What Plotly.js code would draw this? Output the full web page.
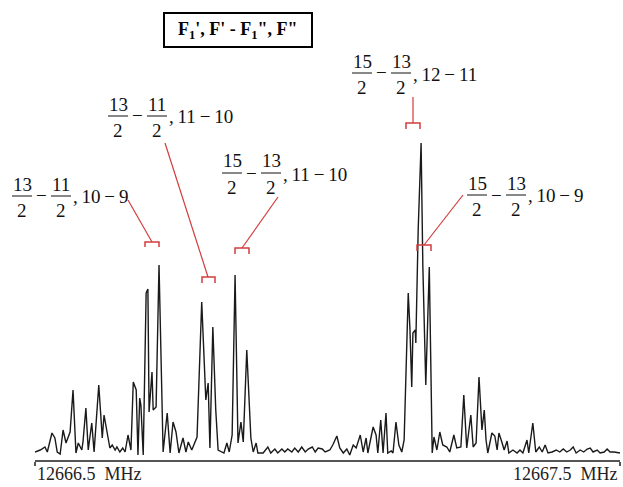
<!DOCTYPE html>
<html><head><meta charset="utf-8">
<script src="https://cdn.plot.ly/plotly-3.0.1.min.js"></script>
<style>html,body{margin:0;padding:0;background:#fff}#chart{width:623px;height:487px}</style>
</head><body><div id="chart"></div>
<script>
// Frequency offset from 12666.5 MHz, in kHz
const freqOffsetKHz = [0,9,17,21,29,34,38,43,48,53,60,65,70,74,80,82,87,91,97,101,109,115,118,123,128,132,137,140,145,150,154,159,164,168,173,176,179,181,185,190,193,195,200,202,207,212,219,226,231,236,241,246,253,258,262,268,277,285,292,296,299,304,309,313,320,323,328,332,337,342,347,352,356,362,369,373,378,381,390,398,403,410,415,422,427,432,439,444,450,456,462,467,474,479,484,491,496,504,509,516,521,527,533,538,544,549,556,561,566,569,578,583,586,591,595,600,603,609,612,617,622,627,631,632,638,641,644,646,650,651,655,660,663,668,674,679,682,687,692,697,704,709,716,721,728,733,738,745,749,754,759,764,768,771,774,781,786,790,793,798,802,807,810,817,824,829,834,841,844,851,856,862,867,872,877,884,891,897,903,909,915,920,925,932,938,944,949,954,961,966,973,978,983,990,1000];
// Signal intensity, arbitrary units
const intensityAU = [1,3,6,1,20,15,1,-1,23,10,21,63,0,10,3,11,45,3,30,1,68,15,38,23,5,8,3,6,1,5,1,18,3,71,63,-2,55,48,-2,160,164,41,81,43,46,188,1,40,0,31,21,0,15,1,11,3,16,151,53,70,5,126,43,3,1,0,10,1,18,178,10,31,11,103,15,1,10,0,0,6,0,4,0,4,1,4,1,5,1,6,1,4,6,1,5,4,1,3,8,17,5,0,4,-2,8,5,18,1,15,0,26,18,0,33,0,40,0,2,0,31,8,1,13,38,160,123,66,120,123,110,223,310,186,68,186,0,16,3,21,8,6,1,18,5,6,58,5,38,6,10,76,23,43,13,0,20,17,3,20,11,3,12,0,3,0,3,0,13,0,30,1,6,1,8,0,1,3,1,4,1,3,6,0,3,1,4,5,1,3,0,1,4,1,1,0];

const baseMHz = 12666.5;
const axisLabels = ['12666.5\u00a0\u00a0MHz', '12667.5\u00a0\u00a0MHz'];
const upperF1 = ['13', '13', '15', '15', '15'];
const lowerF1 = ['11', '11', '13', '13', '13'];
const fTransitions = ['10\u2009\u2212\u20099', '11\u2009\u2212\u200910', '11\u2009\u2212\u200910', '12\u2009\u2212\u200911', '10\u2009\u2212\u20099'];
const titleText = '<b>F<sub>1</sub>\', F\' - F<sub>1</sub>", F"</b>';

const W = 623, H = 487;
const X = px => px / W;
const Y = py => 1 - py / H;

// label placement (layout only)
const place = [
  {x0: 12,  bar: 196, c: [[128,200],[152,242]], br: [145,159,242,247]},
  {x0: 108, bar: 116, c: [[165,143],[208,277]], br: [202,215,277,283]},
  {x0: 222, bar: 173, c: [[278,197],[242,248]], br: [235,249,248,254]},
  {x0: 352, bar: 73,  c: [[413,97],[413,123]],  br: [406,420,123,129]},
  {x0: 467, bar: 195, c: [[463,195],[424,245]], br: [417,431,245,251]}
];

const FONT = '"Liberation Serif", "Times New Roman", Times, serif';
const txt = {family: FONT, size: 19, color: '#111'};
const red = '#d23c3c';
const annotations = [];
const shapes = [];
function ann(px, py, text, xa, font) {
  annotations.push({xref:'paper', yref:'paper', x:X(px), y:Y(py), text:text, showarrow:false,
    xanchor:xa||'center', yanchor:'middle', font:font||txt});
}
function line(x1,y1,x2,y2,color,w) {
  shapes.push({type:'line', xref:'paper', yref:'paper', x0:X(x1), y0:Y(y1), x1:X(x2), y1:Y(y2),
    line:{color:color, width:w}});
}
place.forEach((p, i) => {
  const x0 = p.x0, b = p.bar;
  ann(x0 + 10, b - 12, upperF1[i]);
  ann(x0 + 10, b + 14, '2');
  line(x0, b, x0 + 20, b, '#111', 1);
  ann(x0 + 29, b, '\u2212');
  ann(x0 + 49, b - 12, lowerF1[i]);
  ann(x0 + 49, b + 14, '2');
  line(x0 + 39, b, x0 + 59, b, '#111', 1);
  ann(x0 + 59, b + 1, ',\u2009' + fTransitions[i], 'left');
  line(p.c[0][0], p.c[0][1], p.c[1][0], p.c[1][1], red, 1.2);
  const br = p.br;
  shapes.push({type:'path', xref:'paper', yref:'paper',
    path:`M ${X(br[0])},${Y(br[3])} L ${X(br[0])},${Y(br[2])} L ${X(br[1])},${Y(br[2])} L ${X(br[1])},${Y(br[3])}`,
    line:{color:red, width:1.5}});
});

// title box
shapes.push({type:'rect', xref:'paper', yref:'paper', x0:X(164), x1:X(312), y0:Y(47), y1:Y(13),
  line:{color:'#000', width:2}, fillcolor:'rgba(0,0,0,0)'});
ann(238, 30, titleText, 'center', {family: FONT, size: 18, color: '#000'});

// axis labels
ann(35, 474, axisLabels[0], 'left', {family: FONT, size: 18, color: '#222'});
ann(620, 474, axisLabels[1], 'right', {family: FONT, size: 18, color: '#222'});

const trace = {
  x: freqOffsetKHz.map(k => baseMHz + k / 1000),
  y: intensityAU,
  type: 'scatter', mode: 'lines',
  line: {color: '#1a1a1a', width: 1.4},
  hoverinfo: 'skip', cliponaxis: false
};

const layout = {
  width: W, height: H,
  margin: {l:0, r:0, t:0, b:0},
  paper_bgcolor: '#fff', plot_bgcolor: '#fff',
  showlegend: false,
  font: {family: FONT},
  xaxis: {domain: [35/W, 620/W], range: [baseMHz, baseMHz + 1], showline: true, linecolor: '#555', linewidth: 2,
    ticks: 'outside', tickvals: [baseMHz, baseMHz + 1], ticklen: 4, tickwidth: 1.5, tickcolor: '#555',
    showticklabels: false, showgrid: false, zeroline: false},
  yaxis: {domain: [27/H, 1], range: [-7, 453], visible: false, showgrid: false, zeroline: false},
  annotations: annotations,
  shapes: shapes
};
Plotly.newPlot('chart', [trace], layout, {displayModeBar: false, staticPlot: true});
</script></body></html>
